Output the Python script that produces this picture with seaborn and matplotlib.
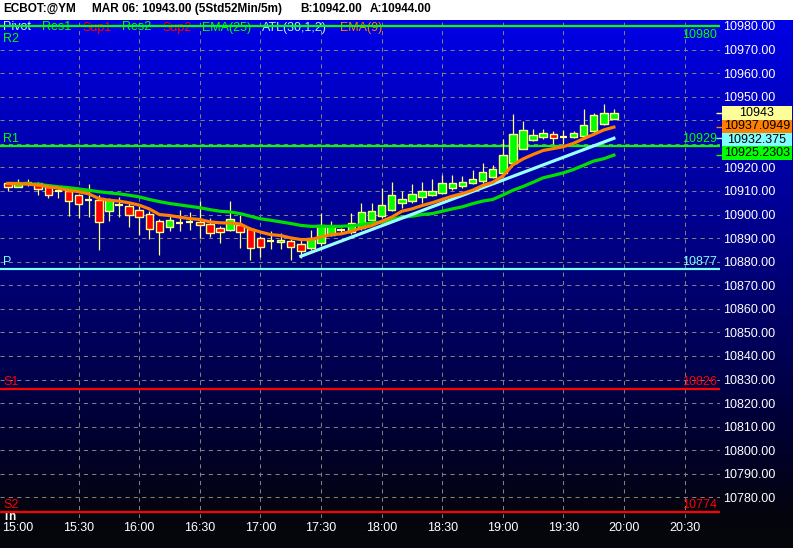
import numpy as np
import pandas as pd
import matplotlib
matplotlib.use("Agg")
import matplotlib.pyplot as plt
import seaborn as sns
from matplotlib.patches import Rectangle

# ---------------- data ----------------
bar_times = pd.date_range("2000-03-06 14:55", periods=61, freq="5min")
opens = [10913.2, 10911.9, 10913.2, 10913.2, 10911.8, 10909.9, 10909.9, 10908.1, 10906.1, 10906.0,
         10901.4, 10904.0, 10903.8, 10902.1, 10900.3, 10897.4, 10894.6, 10896.5, 10896.9, 10896.7,
         10896.2, 10894.3, 10893.3, 10895.7, 10893.9, 10890.1, 10888.6, 10888.2, 10888.9, 10887.7,
         10885.8, 10888.0, 10891.5, 10893.3, 10892.5, 10894.3, 10897.6, 10899.3, 10901.8, 10905.0,
         10905.7, 10907.5, 10908.2, 10909.2, 10911.4, 10912.3, 10913.2, 10914.2, 10916.0, 10917.7,
         10921.7, 10928.0, 10931.6, 10932.9, 10934.0, 10932.9, 10933.1, 10933.3, 10935.4, 10938.6,
         10940.7]
highs = [10913.7, 10914.9, 10914.9, 10913.7, 10912.8, 10911.5, 10910.9, 10908.9, 10912.8, 10908.5,
         10907.2, 10907.5, 10904.7, 10903.5, 10901.3, 10898.3, 10899.3, 10901.8, 10900.9, 10905.7,
         10898.6, 10895.0, 10905.7, 10900.0, 10894.9, 10891.1, 10892.9, 10892.2, 10889.8, 10890.1,
         10893.6, 10900.7, 10897.2, 10894.3, 10900.7, 10904.7, 10904.7, 10911.4, 10913.7, 10909.9,
         10912.8, 10913.7, 10914.9, 10916.6, 10916.6, 10916.3, 10918.9, 10921.7, 10920.9, 10931.9,
         10942.6, 10939.7, 10936.2, 10936.5, 10935.4, 10935.7, 10935.4, 10944.7, 10943.3, 10946.8,
         10944.7]
lows = [10909.8, 10911.9, 10912.0, 10908.1, 10907.2, 10907.2, 10899.6, 10898.6, 10899.1, 10884.8,
        10897.4, 10899.0, 10894.6, 10891.5, 10889.7, 10882.7, 10892.9, 10892.9, 10893.6, 10890.1,
        10890.5, 10888.0, 10892.9, 10885.8, 10880.9, 10881.8, 10885.4, 10885.4, 10880.9, 10881.6,
        10885.1, 10886.5, 10890.8, 10892.2, 10891.9, 10893.6, 10897.1, 10898.6, 10901.4, 10902.9,
        10905.0, 10905.0, 10907.8, 10908.9, 10910.6, 10911.4, 10912.8, 10913.5, 10915.6, 10916.0,
        10920.9, 10927.7, 10931.2, 10931.9, 10929.8, 10929.8, 10932.6, 10933.1, 10935.0, 10937.9,
        10940.4]
closes = [10911.5, 10913.6, 10913.3, 10910.9, 10908.2, 10909.8, 10905.7, 10904.6, 10906.1, 10896.9,
          10906.0, 10904.0, 10899.7, 10899.0, 10893.9, 10892.6, 10897.9, 10896.5, 10896.9, 10895.7,
          10892.2, 10892.6, 10898.2, 10892.5, 10885.8, 10886.1, 10888.6, 10889.4, 10886.1, 10884.4,
          10890.1, 10895.7, 10895.0, 10893.3, 10896.5, 10901.1, 10901.4, 10904.0, 10908.1, 10906.4,
          10908.9, 10909.9, 10910.2, 10913.2, 10913.2, 10913.9, 10915.2, 10918.2, 10919.4, 10925.1,
          10934.3, 10935.9, 10933.7, 10934.8, 10932.6, 10932.9, 10934.5, 10937.9, 10942.1, 10943.0,
          10943.0]
ema9 = [10913.2, 10913.1, 10912.9, 10912.5, 10911.8, 10911.2, 10910.3, 10909.7, 10908.8, 10906.8,
        10906.1, 10905.7, 10905.0, 10904.0, 10902.4, 10900.0, 10899.6, 10898.9, 10898.3, 10897.9,
        10896.9, 10896.5, 10896.4, 10896.0, 10893.9, 10892.6, 10891.5, 10891.1, 10890.1, 10889.4,
        10889.4, 10890.5, 10891.5, 10891.8, 10892.9, 10894.3, 10895.3, 10897.1, 10898.9, 10901.4,
        10902.4, 10903.8, 10905.0, 10906.4, 10907.8, 10908.9, 10910.3, 10912.3, 10913.7, 10916.3,
        10921.1, 10923.6, 10925.5, 10927.2, 10928.0, 10928.8, 10930.2, 10932.2, 10934.0, 10935.9,
        10937.0949]
ema25 = [10913.2, 10913.2, 10913.1, 10912.8, 10912.3, 10911.8, 10911.4, 10910.9, 10910.3, 10909.7,
         10909.2, 10908.8, 10908.2, 10907.5, 10906.4, 10905.5, 10904.7, 10904.1, 10903.5, 10902.9,
         10902.1, 10901.4, 10901.1, 10900.4, 10899.3, 10898.2, 10897.6, 10896.9, 10896.2, 10895.4,
         10895.0, 10895.0, 10895.0, 10895.0, 10895.3, 10895.7, 10896.5, 10896.8, 10897.9, 10898.9,
         10899.3, 10900.0, 10900.4, 10901.4, 10902.4, 10903.3, 10904.6, 10905.7, 10906.4, 10908.3,
         10910.3, 10911.9, 10913.7, 10915.6, 10916.6, 10917.7, 10919.1, 10920.9, 10922.7, 10923.7,
         10925.2303]
atl_times = ["2000-03-06 17:20", "2000-03-06 19:55"]
atl_values = [10882.3, 10932.375]

level_names = ["R2", "R1", "P", "S1", "S2"]
level_values = [10980, 10929, 10877, 10826, 10774]
level_colors = ["#00ff00", "#00ff00", "#80ffff", "#ff0000", "#ff0000"]

legend_labels = ["Pivot", "Res1", "Sup1", "Res2", "Sup2", "EMA(25)", "ATL(30,1,2)", "EMA(9)"]
legend_colors = ["#b8ffff", "#00ff00", "#ff0000", "#00ff00", "#ff0000", "#00ff00", "#a0ffff", "#ff8000"]

time_labels = ["15:00", "15:30", "16:00", "16:30", "17:00", "17:30",
               "18:00", "18:30", "19:00", "19:30", "20:00", "20:30"]
price_ticks = list(range(10780, 10990, 10))
hidden_price_labels = [10930, 10940]   # covered by the value boxes in the reference

last_price = 10943
value_boxes = [(f"{last_price}", last_price, "#ffff99"),
               ("10937.0949", ema9[-1], "#ff8000"),
               ("10932.375", atl_values[-1], "#80ffff"),
               ("10925.2303", ema25[-1], "#00ff00")]

title_parts = ["ECBOT:@YM", "MAR 06: 10943.00 (5Std52Min/5m)", "B:10942.00", "A:10944.00"]

# ---------------- setup ----------------
plt.rcParams["font.family"] = ["Liberation Sans", "DejaVu Sans"]
W, H = 793, 548
fig = plt.figure(figsize=(W / 100, H / 100), dpi=100, facecolor="white")

def fx(x):
    return x / W

def fy(y):
    return 1 - y / H

# gradient background
TOP = 20
bg = fig.add_axes([0, 0, 1, fy(TOP)])
bg.set_axis_off()
ys = np.arange(TOP, H)
blue = np.clip(232 - 0.440 * (ys - 18), 12, 255) / 255.0
rg = np.clip((ys - 430) / 118.0 * 6, 0, 6) / 255.0
grad = np.stack([rg, rg, blue], axis=1)[:, None, :]
bg.imshow(grad, aspect="auto", extent=[0, 1, 0, 1], interpolation="bilinear")

# main axes
AX_L, AX_R, AX_T, AX_B = 0, 720, TOP, 518
ax = fig.add_axes([fx(AX_L), fy(AX_B), fx(AX_R - AX_L), (AX_B - AX_T) / H])
ax.set_facecolor("none")
for s in ax.spines.values():
    s.set_visible(False)

# mapping: y_px = 26 + (10980 - p) * 2.357 ; x_px = 18 + 2.02 * minutes(15:00)
ppp = 2.357
ax.set_ylim(10980 - (AX_B - 26) / ppp, 10980 + (26 - AX_T) / ppp)
ppm = 2.02
ax.set_xlim((AX_L - 18) / ppm, (AX_R - 18) / ppm)

t0 = pd.Timestamp("2000-03-06 15:00")
xm = np.array((bar_times - t0) / pd.Timedelta(minutes=1), dtype=float)

# ticks and grid
tick_min = [30 * i for i in range(len(time_labels))]
ax.set_xticks(tick_min)
ax.set_xticklabels(time_labels)
ax.set_yticks(price_ticks)
ax.set_yticklabels(["" if p in hidden_price_labels else f"{p:.2f}" for p in price_ticks])
ax.yaxis.tick_right()
ax.tick_params(axis="x", length=0, pad=3.0, colors="white", labelsize=9)
ax.tick_params(axis="y", length=0, pad=2.2, colors="white", labelsize=9)
dash = (0, (4, 4))
for p in price_ticks:
    ax.axhline(p, color="#808080", lw=0.75, ls=dash, zorder=1)
for m in tick_min[1:]:
    ax.axvline(m, color="#808080", lw=0.75, ls=dash, zorder=1)

# level lines and labels
ylt = ax.get_yaxis_transform()
for name, val, col in zip(level_names, level_values, level_colors):
    ax.axhline(val, color=col, lw=1.6, zorder=6)
    if name == "R2":
        va, off_l, off_r = "top", -7, -3
    else:
        va, off_l, off_r = "bottom", 1, 1
    ax.annotate(name, xy=(0, val), xycoords=ylt, xytext=(3, off_l), textcoords="offset pixels",
                ha="left", va=va, color=col, fontsize=9, zorder=5, annotation_clip=False)
    ax.annotate(f"{val}", xy=(1, val), xycoords=ylt, xytext=(-3, off_r),
                textcoords="offset pixels", ha="right", va=va, color=col, fontsize=9, zorder=5,
                annotation_clip=False)
ax.annotate("Tn", xy=(0, level_values[-1]), xycoords=ylt, xytext=(3, 1), textcoords="offset pixels",
            ha="left", va="top", color="white", fontsize=8.5, fontweight="bold", zorder=5,
            annotation_clip=False)

# legend row
legend_x = [3, 42, 82, 122, 162, 202, 262, 340]
for lab, col, x in zip(legend_labels, legend_colors, legend_x):
    ax.text(fx(x), fy(27.5), lab, transform=fig.transFigure, ha="left", va="center",
            color=col, fontsize=9, zorder=4, clip_on=False)

# candles
wick_col = "#ffff80"
ax.vlines(xm, lows, highs, color=wick_col, lw=0.9, zorder=7)
o = np.array(opens)
c = np.array(closes)
doji = np.abs(c - o) < 0.3
body_w = 3.7
up = (c > o) & ~doji
dn = (c < o) & ~doji
ax.bar(xm[up], (c - o)[up], bottom=o[up], width=body_w, color="#00ff00",
       edgecolor=wick_col, linewidth=1.0, zorder=8)
ax.bar(xm[dn], (o - c)[dn], bottom=c[dn], width=body_w, color="#ff0000",
       edgecolor=wick_col, linewidth=1.0, zorder=8)
ax.hlines(o[doji], xm[doji] - body_w / 2, xm[doji] + body_w / 2, color=wick_col, lw=1.6, zorder=8)

# indicator lines
df = pd.DataFrame({"m": xm, "ema9": ema9, "ema25": ema25})
sns.lineplot(data=df, x="m", y="ema25", ax=ax, color="#00e000", lw=2.3, legend=False, zorder=9)
sns.lineplot(data=df, x="m", y="ema9", ax=ax, color="#ff8000", lw=2.3, legend=False, zorder=10)
atl_m = [(pd.Timestamp(t) - t0) / pd.Timedelta(minutes=1) for t in atl_times]
sns.lineplot(x=atl_m, y=atl_values, ax=ax, color="#99ffff", lw=2.3, legend=False, zorder=9)
ax.set_xlabel("")
ax.set_ylabel("")

# price marks at right edge
for lab, val, col in value_boxes:
    ax.hlines(val, 0.994, 1.004, transform=ylt, color=col, lw=1.0, clip_on=False, zorder=11)

# value boxes
box_centers = [113, 126.3, 139.6, 153]
bh = 13.3
for (lab, val, col), yc in zip(value_boxes, box_centers):
    fig.add_artist(Rectangle((fx(722), fy(yc + bh / 2)), fx(792 - 722), bh / H,
                             transform=fig.transFigure, facecolor=col, edgecolor="none", zorder=5))
    fig.text(fx(757), fy(yc), lab, ha="center", va="center", color="black", fontsize=9, zorder=6)

# title
title_x = [3, 92, 300, 370]
for t, x in zip(title_parts, title_x):
    fig.text(fx(x), fy(9), t, ha="left", va="center", color="black", fontsize=8.5, fontweight="bold")

fig.savefig("out.png", dpi=100, facecolor="white")
